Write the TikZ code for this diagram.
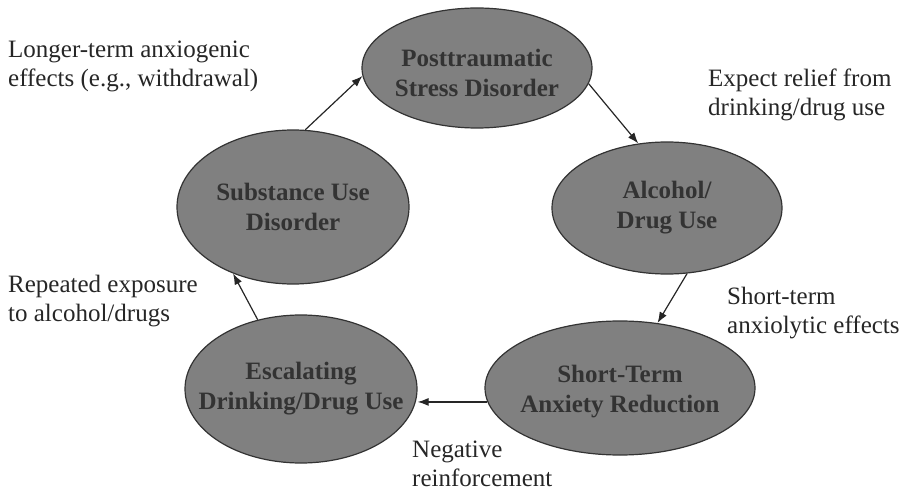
\documentclass[tikz,border=0pt]{standalone}
\usepackage{fontspec}
\setmainfont{Liberation Serif}
\usetikzlibrary{shapes.geometric,arrows.meta}
\begin{document}
\begin{tikzpicture}[x=1pt,y=-1pt,
  ell/.style={ellipse, draw=black!80, line width=1.2pt, fill=black!50, inner sep=0pt},
  etext/.style={align=center, font=\fontsize{25}{30}\selectfont\bfseries, text=black!80, inner sep=0pt},
  lbl/.style={align=left, anchor=west, font=\fontsize{25}{29}\selectfont, text=black!85, inner sep=0pt},
  arr/.style={-{Latex[length=11pt,width=8pt]}, line width=1.2pt, draw=black!85}]
\useasboundingbox (0,0) rectangle (905,492);
% ellipses
\node[ell, minimum width=230pt, minimum height=120pt] (ptsd) at (477,68) {};
\node[ell, minimum width=230pt, minimum height=132pt] (alc) at (667,208) {};
\node[ell, minimum width=270pt, minimum height=134pt] (str) at (620,388) {};
\node[ell, minimum width=232pt, minimum height=148pt] (esc) at (301,389) {};
\node[ell, minimum width=232pt, minimum height=154pt] (sud) at (293,207) {};
% ellipse texts
\node[etext] (ptsdt) at ([yshift=-5pt]ptsd.center) {Posttraumatic\\Stress Disorder};
\node[etext] (alct) at (alc.center) {Alcohol/\\Drug Use};
\node[etext] (strt) at ([yshift=-4pt]str.center) {Short-Term\\Anxiety Reduction};
\node[etext] (esct) at (esc.center) {Escalating\\Drinking/Drug Use};
\node[etext] (sudt) at (sud.center) {Substance Use\\Disorder};
% arrows
\draw[arr] (sud.81) -- (ptsd.184);
\draw[arr] (ptsd.-8) -- (alc.114);
\draw[arr] (alc.-73) -- (str.60);
\draw[arr] (str.186) -- (str.186 -| esc.east);
\draw[arr] (esc.122) -- (sud.228);
% labels
\node[lbl] (l1) at (8,66) {Longer-term anxiogenic\\effects (e.g., withdrawal)};
\node[lbl] (l2) at (708,95) {Expect relief from\\drinking/drug use};
\node[lbl] (l3) at (8,301) {Repeated exposure\\to alcohol/drugs};
\node[lbl] (l4) at (727,313) {Short-term\\anxiolytic effects};
\node[lbl] (l5) at (412,464) {Negative\\reinforcement};
\end{tikzpicture}
\end{document}
